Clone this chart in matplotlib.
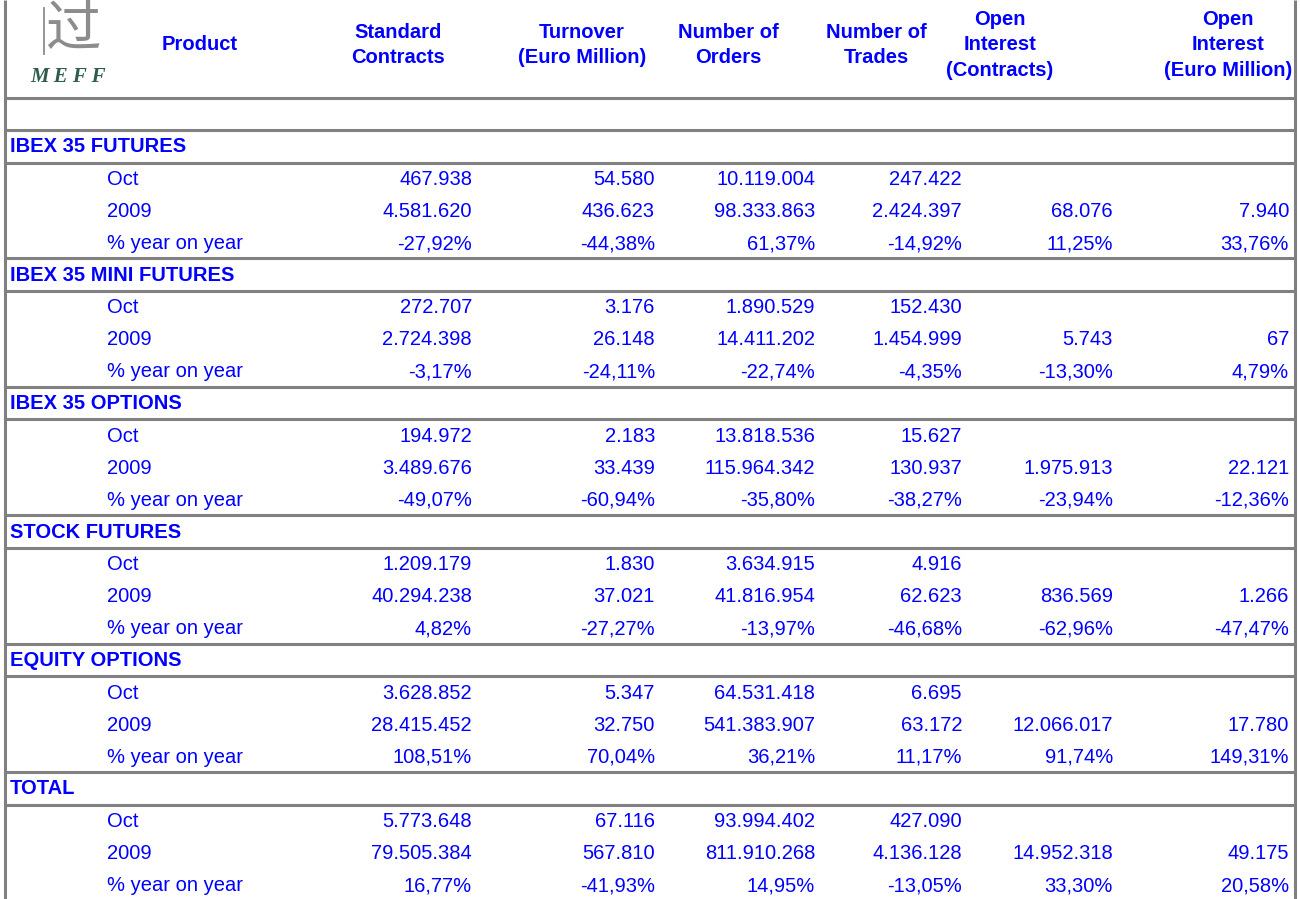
import matplotlib.pyplot as plt

plt.rcParams['font.family'] = ['Liberation Sans', 'DejaVu Sans']

# ---- data -----------------------------------------------------------------
columns = ["Standard\nContracts", "Turnover\n(Euro Million)", "Number of\nOrders",
           "Number of\nTrades", "Open\nInterest\n(Contracts)", "Open\nInterest\n(Euro Million)"]
row_labels = ["Oct", "2009", "% year on year"]
sections = ["IBEX 35 FUTURES", "IBEX 35 MINI FUTURES", "IBEX 35 OPTIONS",
            "STOCK FUTURES", "EQUITY OPTIONS", "TOTAL"]

ibex_futures = [
    ["467.938", "54.580", "10.119.004", "247.422", "", ""],
    ["4.581.620", "436.623", "98.333.863", "2.424.397", "68.076", "7.940"],
    ["-27,92%", "-44,38%", "61,37%", "-14,92%", "11,25%", "33,76%"],
]
ibex_mini = [
    ["272.707", "3.176", "1.890.529", "152.430", "", ""],
    ["2.724.398", "26.148", "14.411.202", "1.454.999", "5.743", "67"],
    ["-3,17%", "-24,11%", "-22,74%", "-4,35%", "-13,30%", "4,79%"],
]
ibex_options = [
    ["194.972", "2.183", "13.818.536", "15.627", "", ""],
    ["3.489.676", "33.439", "115.964.342", "130.937", "1.975.913", "22.121"],
    ["-49,07%", "-60,94%", "-35,80%", "-38,27%", "-23,94%", "-12,36%"],
]
stock_futures = [
    ["1.209.179", "1.830", "3.634.915", "4.916", "", ""],
    ["40.294.238", "37.021", "41.816.954", "62.623", "836.569", "1.266"],
    ["4,82%", "-27,27%", "-13,97%", "-46,68%", "-62,96%", "-47,47%"],
]
equity_options = [
    ["3.628.852", "5.347", "64.531.418", "6.695", "", ""],
    ["28.415.452", "32.750", "541.383.907", "63.172", "12.066.017", "17.780"],
    ["108,51%", "70,04%", "36,21%", "11,17%", "91,74%", "149,31%"],
]
total = [
    ["5.773.648", "67.116", "93.994.402", "427.090", "", ""],
    ["79.505.384", "567.810", "811.910.268", "4.136.128", "14.952.318", "49.175"],
    ["16,77%", "-41,93%", "14,95%", "-13,05%", "33,30%", "20,58%"],
]
section_values = [ibex_futures, ibex_mini, ibex_options, stock_futures, equity_options, total]

# ---- layout (pixels) -------------------------------------------------------
W, H = 1300, 899
BLUE = '#0000ff'
GRID = '#808080'
LW = 2.2
FS = 14.5

header_cx = [398, 582, 728, 876, 1000, 1228]
value_rx = [472, 655, 815, 962, 1113, 1289]
left_x, right_x = 4.5, 1294.5
header_bottom = 98
first_top = 130
sec_h = 128.4
sec_head_h = 32.5
row_h = 32

fig = plt.figure(figsize=(W / 100, H / 100), dpi=100)
ax = fig.add_axes([0, 0, 1, 1])
ax.set_xlim(0, W)
ax.set_ylim(H, 0)
ax.axis('off')

# borders
ax.plot([left_x, left_x], [0, H], color=GRID, lw=LW, solid_capstyle='butt')
ax.plot([right_x, right_x], [0, 905], color=GRID, lw=LW, solid_capstyle='butt')

# logo
ax.text(74, 30, "过", family=['Noto Sans CJK SC'], fontsize=40, color='#8c8c8c',
        ha='center', va='center', fontweight='light')
ax.plot([44, 44], [8, 54], color='#8c8c8c', lw=1.3)
ax.text(68, 77, "M E F F", family=['Liberation Serif'], fontsize=15, style='italic',
        fontweight='bold', color='#2f5d4c', ha='center', va='center')

# header
ax.text(200, 44, "Product", color=BLUE, fontsize=FS, fontweight='bold',
        ha='center', va='center')
for cx, label in zip(header_cx, columns):
    ax.text(cx, 45, label, color=BLUE, fontsize=FS, fontweight='bold',
            ha='center', va='center', multialignment='center', linespacing=1.45)

def hline(y):
    ax.plot([left_x, right_x], [y, y], color=GRID, lw=LW, solid_capstyle='butt')

hline(header_bottom)

for k, (name, vals) in enumerate(zip(sections, section_values)):
    top = first_top + k * sec_h
    hline(top)
    ax.text(10, top + 17, name, color=BLUE, fontsize=FS, fontweight='bold',
            ha='left', va='center')
    hline(top + sec_head_h)
    for j, (lab, row) in enumerate(zip(row_labels, vals)):
        y = top + sec_head_h + 17 + j * row_h
        ax.text(107, y, lab, color=BLUE, fontsize=FS, ha='left', va='center')
        for rx, v in zip(value_rx, row):
            ax.text(rx, y, v, color=BLUE, fontsize=FS, ha='right', va='center')

fig.savefig("out.png", dpi=100)
